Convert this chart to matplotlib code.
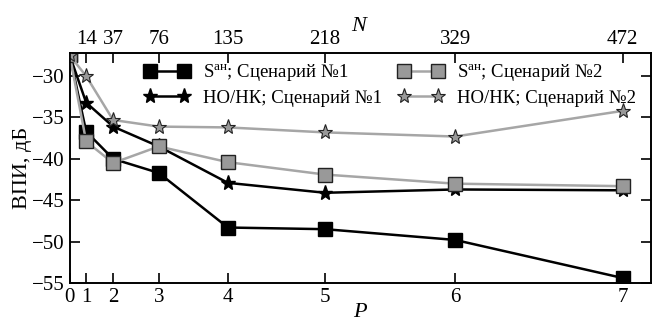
import matplotlib
matplotlib.use("Agg")
import matplotlib.pyplot as plt

plt.rcParams['font.family'] = 'serif'
plt.rcParams['font.serif'] = ['Liberation Serif', 'DejaVu Serif']
plt.rcParams['mathtext.fontset'] = 'custom'
plt.rcParams['mathtext.rm'] = 'Liberation Serif'
plt.rcParams['mathtext.it'] = 'Liberation Serif:italic'

# данные
P = [0, 1, 2, 3, 4, 5, 6, 7]
N = [0, 14, 37, 76, 135, 218, 329, 472]
s_sc1 = [-27.5, -36.7, -40.0, -41.7, -48.3, -48.5, -49.8, -54.4]
s_sc2 = [-27.5, -37.9, -40.5, -38.5, -40.4, -41.9, -43.0, -43.3]
ho_sc1 = [-27.5, -33.2, -36.1, -38.5, -42.9, -44.1, -43.7, -43.8]
ho_sc2 = [-27.5, -30.0, -35.3, -36.1, -36.2, -36.8, -37.3, -34.2]

grey = '#999999'
grey_line = '#a6a6a6'

fig = plt.figure(figsize=(6.52, 3.23), dpi=100)
ax = fig.add_axes([0.107, 0.124, 0.891, 0.712])

l1, = ax.plot(N, s_sc1, color='black', lw=1.8, marker='s', ms=10,
              mfc='black', mec='black', label=r'S$^{\mathrm{ан}}$; Сценарий №1', zorder=3)
l3, = ax.plot(N, ho_sc1, color='black', lw=1.8, marker='*', ms=11,
              mfc='black', mec='black', label='НО/НК; Сценарий №1', zorder=3)
l2, = ax.plot(N, s_sc2, color=grey_line, lw=1.8, marker='s', ms=10,
              mfc=grey, mec='#222222', mew=1.0, label=r'S$^{\mathrm{ан}}$; Сценарий №2', zorder=4)
l4, = ax.plot(N, ho_sc2, color=grey_line, lw=1.8, marker='*', ms=11,
              mfc=grey, mec='#222222', mew=0.8, label='НО/НК; Сценарий №2', zorder=4)

ax.set_xlim(0, 496)
ax.set_ylim(-55, -27.2)
ax.set_xticks(N)
ax.set_xticklabels([str(p) for p in P])
ax.set_yticks([-55, -50, -45, -40, -35, -30])
ax.set_yticklabels(['\u221255', '\u221250', '\u221245', '\u221240', '\u221235', '\u221230'])
ax.tick_params(direction='in', length=7, width=1.2, labelsize=15, right=True)
ax.set_xlabel('$\\it{P}$', fontsize=16, labelpad=-3)
ax.set_ylabel('ВПИ, дБ', fontsize=16, labelpad=0)

top = ax.twiny()
top.set_xlim(ax.get_xlim())
top.set_xticks(N[1:])
top.set_xticklabels([str(n) for n in N[1:]])
top.tick_params(direction='in', length=7, width=1.2, labelsize=15, pad=3)
top.set_xlabel('$\\it{N}$', fontsize=16, labelpad=-1)

for a in (ax, top):
    for sp in a.spines.values():
        sp.set_linewidth(1.2)

ax.legend(handles=[l1, l3, l2, l4], ncol=2, loc='upper right', frameon=False,
          fontsize=13.5, numpoints=2, handlelength=2.4, columnspacing=0.9,
          handletextpad=0.7, borderaxespad=0.1, labelspacing=0.35,
          bbox_to_anchor=(0.99, 1.0))

fig.savefig('out.png', dpi=100)
